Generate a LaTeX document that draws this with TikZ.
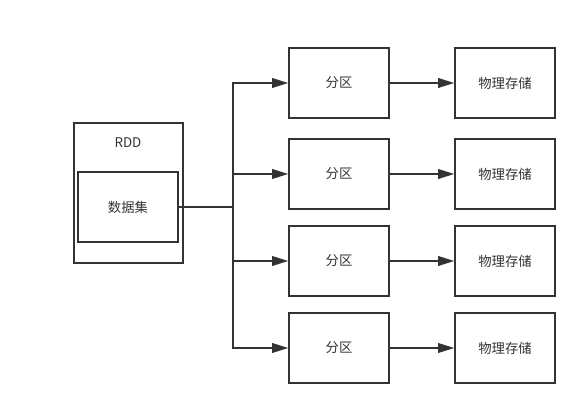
\documentclass[tikz,border=0pt]{standalone}
\usepackage{fontspec}
\setmainfont{Noto Sans CJK SC}
\usepackage{tikz}
\usetikzlibrary{arrows.meta,positioning}
\definecolor{lineDark}{RGB}{51,51,51}

\begin{document}
\begin{tikzpicture}[
  box/.style={rectangle,draw=lineDark,line width=1.1pt,
              minimum width=2.5cm,minimum height=1.75cm,align=center,
              font=\fontsize{9.5}{11}\selectfont,text=lineDark},
  arrow/.style={-{Triangle[length=0.4cm,width=0.24cm]},line width=1.1pt,color=lineDark}
]
\useasboundingbox (0,0) rectangle (14.65,-10.375);
% RDD
\node[box,minimum width=2.725cm,minimum height=3.5cm] (rdd) at (3.2125,-4.825) {};
\node[font=\fontsize{9.5}{11}\selectfont,text=lineDark] (rddlabel) at (3.2,-3.575) {RDD};
\node[box] (data) at (3.2,-5.175) {数据集};
% Partitions and storage
\foreach \i/\y in {1/-2.075,2/-4.35,3/-6.525,4/-8.7} {
  \node[box] (part\i) at (8.475,\y) {分区};
  \node[box] (store\i) at (12.625,\y) {物理存储};
}
% Arrows
\coordinate (split) at (5.825,-5.175);
\draw[line width=1.1pt,color=lineDark] (data.east) -- (split);
\foreach \i in {1,...,4} {
  \draw[arrow] (split) |- (part\i.west);
  \draw[arrow] (part\i.east) -- (store\i.west);
}
\end{tikzpicture}
\end{document}
